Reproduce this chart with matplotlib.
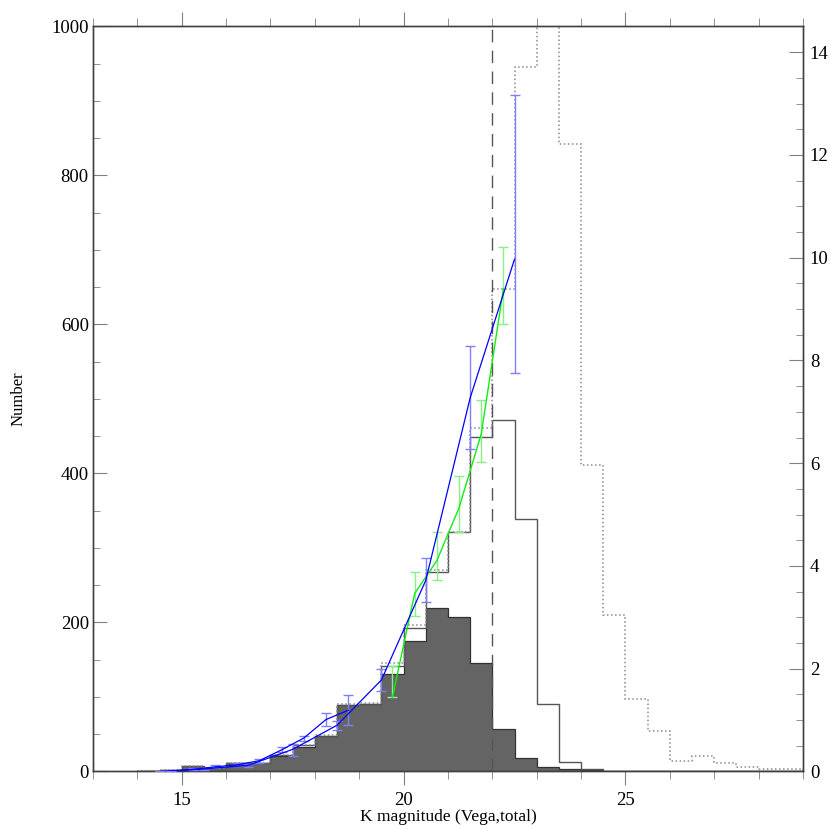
import numpy as np
from matplotlib import pyplot as plt
from matplotlib.ticker import MultipleLocator

plt.rcParams['font.family'] = ['Liberation Serif', 'DejaVu Serif']

# histogram bins (0.5 mag wide) and counts
edges = np.arange(14.0, 29.01, 0.5)
n_dark = [0, 2.5, 7.4, 4.3, 11.8, 11.8, 21, 33, 47.5, 89, 91, 131, 174.5, 219, 207,
          145, 57, 18.5, 5.6, 3.8, 2, 0, 1, 0, 0, 0, 0, 0, 0, 0]
n_solid = [0, 2.5, 7.4, 5, 12, 12, 22, 35, 48, 89, 91, 142, 193, 268, 321,
           449, 472, 339.5, 90, 13, 4, 1, 1, 0, 0, 0, 0, 0, 0, 0]
n_dotted = [0, 2.5, 7.4, 5, 12, 12, 22, 36, 48.5, 90, 92, 145, 196, 270, 322,
            461, 648, 945, 1150, 842, 411, 210, 97, 54, 14, 21, 12, 5.6, 4, 3]

# green points (left axis)
g_x = [19.75, 20.25, 20.75, 21.25, 21.75, 22.25]
g_y = [100, 239, 283, 354, 453, 648]
g_lo = [0, 30, 26, 32, 37, 47]
g_hi = [41.5, 29, 39, 42, 46, 56]

# blue points (right axis), fine and coarse binning
ba_x = [14.75, 15.25, 15.75, 16.25, 16.75, 17.25, 17.75, 18.25, 18.75]
ba_y = [0.01, 0.04, 0.09, 0.13, 0.21, 0.42, 0.65, 1.01, 1.19]
ba_e = [0.01, 0.02, 0.03, 0.03, 0.04, 0.05, 0.05, 0.12, 0.29]

bb_x = [14.5, 15.5, 16.5, 17.5, 18.5, 19.5, 20.5, 21.5, 22.5]
bb_y = [0.0, 0.05, 0.12, 0.43, 0.90, 1.78, 3.72, 7.27, 9.97]
bb_lo = [0, 0.02, 0.03, 0.12, 0.10, 0.21, 0.43, 0.99, 2.21]
bb_hi = [0, 0.02, 0.03, 0.11, 0.09, 0.21, 0.43, 1.02, 3.19]

k_lim = 22.0


fig = plt.figure(figsize=(8.3, 8.3), dpi=100)
ax = fig.add_axes([0.1120, 0.0705, 0.8554, 0.8976])
ax2 = ax.twinx()

ax.stairs(n_dark, edges, fill=True, color='#646464', zorder=1)
ax.stairs(n_dark, edges, color='#333333', lw=0.9, zorder=2)
ax.stairs(n_solid, edges, color='#555555', lw=1.0, zorder=2)
ax.stairs(n_dotted, edges, color='#8a8a8a', ls=':', lw=1.1, zorder=2)
ax.axvline(k_lim, color='#555555', ls=(0, (9, 6)), lw=1.0, zorder=2)

ax.errorbar(g_x, g_y, yerr=[g_lo, g_hi], color='#11ee11', ecolor='#88f088',
            lw=1.0, elinewidth=1.0, capsize=3.5, zorder=3)

ax2.errorbar(ba_x, ba_y, yerr=ba_e, color='#0000ff', ecolor='#8080ff',
             lw=0.9, elinewidth=1.0, capsize=3.5, zorder=3)
ax2.errorbar(bb_x, bb_y, yerr=[bb_lo, bb_hi], color='#0000ff', ecolor='#8080ff',
             lw=0.9, elinewidth=1.0, capsize=3.5, zorder=3)

ax.set_xlim(13, 29)
ax.set_ylim(0, 1000)
ax2.set_ylim(0, 14.5)

ax.xaxis.set_major_locator(MultipleLocator(5))
ax.xaxis.set_minor_locator(MultipleLocator(1))
ax.yaxis.set_major_locator(MultipleLocator(200))
ax.yaxis.set_minor_locator(MultipleLocator(50))
ax2.yaxis.set_major_locator(MultipleLocator(2))
ax2.yaxis.set_minor_locator(MultipleLocator(0.5))

tc = '#808080'
ax.tick_params(axis='x', which='both', direction='out', top=True, bottom=True,
               color=tc, labelsize=13.5, pad=5)
ax.tick_params(axis='x', which='major', length=10)
ax.tick_params(axis='x', which='minor', length=6)
ax.tick_params(axis='y', which='both', direction='in', left=True, right=False,
               color=tc, labelsize=13.5, pad=3)
ax.tick_params(axis='y', which='major', length=10)
ax.tick_params(axis='y', which='minor', length=5)
ax2.tick_params(axis='y', which='both', direction='in', right=True, left=False,
                color=tc, labelsize=13.5, pad=5)
ax2.tick_params(axis='y', which='major', length=10)
ax2.tick_params(axis='y', which='minor', length=5)

for a in (ax, ax2):
    for s in a.spines.values():
        s.set_color('#404040')
        s.set_linewidth(1.0)

ax.set_xlabel('K magnitude (Vega,total)', size=12.5)
ax.set_ylabel('Number', size=12)
ax.xaxis.set_label_coords(0.5, -0.051)
ax.yaxis.set_label_coords(-0.093, 0.5)

fig.savefig('out.png', dpi=100)
